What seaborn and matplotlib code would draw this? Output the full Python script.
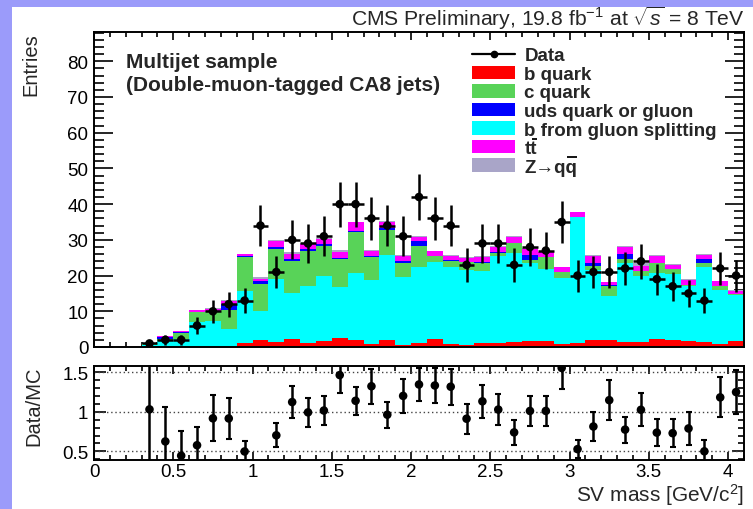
import numpy as np
import pandas as pd
import matplotlib
matplotlib.use("Agg")
import matplotlib.pyplot as plt
import seaborn as sns
from matplotlib.patches import Patch, Rectangle
from matplotlib.lines import Line2D
from matplotlib.transforms import IdentityTransform
from matplotlib.ticker import MultipleLocator, FuncFormatter

# SV mass binning: 41 bins of 0.1 GeV/c^2 between 0 and 4.1
bin_edges = np.round(np.linspace(0.0, 4.1, 42), 2)
bin_centers = np.round(0.5 * (bin_edges[:-1] + bin_edges[1:]), 2)

# Observed entries per bin
data_counts = np.array([
    0, 0, 0, 1, 2, 2, 6, 10, 12, 13,
    34, 21, 30, 29, 31, 40, 40, 36, 34, 31,
    42, 36, 34, 23, 29, 29, 23, 28, 27, 35,
    20, 21, 21, 22, 24, 19, 17, 15, 13, 22,
    20,
], dtype=float)

# Simulated contributions per bin (stacked bottom to top)
b_quark = [
    0, 0, 0, 0, 0, 0, 0, 0, 0, 1.1,
    1.9, 1.3, 2.3, 1.1, 1.8, 2.5, 2.1, 0.9, 2.0, 0.7,
    1.1, 2.2, 0.9, 0.7, 1.1, 1.1, 1.3, 1.6, 1.6, 0.9,
    1.1, 2.0, 1.9, 1.4, 1.3, 2.2, 2.0, 1.7, 1.5, 0.9,
    1.6,
]
gluon_splitting = [
    0, 0, 0, 0.6, 1.8, 2.3, 6.9, 7.2, 5.1, 14.5,
    8.1, 17.8, 12.8, 16.1, 18.2, 14.3, 18.6, 17.9, 23.8, 18.9,
    21.3, 21.5, 21.5, 20.9, 20.3, 24.4, 25.0, 21.9, 20.2, 18.4,
    35.2, 19.6, 12.5, 22.1, 18.5, 18.5, 18.5, 15.3, 21.0, 15.1,
    13.0,
]
c_quark = [
    0, 0, 0, 0.22, 0.4, 1.7, 2.9, 2.9, 5.3, 9.7,
    7.7, 8.3, 9.1, 9.6, 8.3, 7.8, 11.4, 6.4, 7.0, 3.9,
    5.8, 1.7, 1.8, 2.1, 2.1, 0.8, 2.8, 0.9, 3.3, 1.6,
    0.1, 1.2, 2.8, 1.2, 1.4, 2.8, 1.3, 0.3, 1.0, 1.0,
    0.2,
]
uds_gluon = [
    0, 0, 0, 0.1, 0.5, 0.1, 0.1, 0.1, 1.7, 0.1,
    0.9, 0.6, 0.5, 0.6, 0.6, 0.2, 0.4, 0.2, 0.5, 0.5,
    1.4, 0.1, 0.1, 0.2, 0.3, 0.2, 0.1, 1.4, 0.1, 0.1,
    0.1, 0.7, 0.1, 1.4, 0.1, 0.1, 0.1, 0.1, 1.1, 0.1,
    0.1,
]
ttbar = [
    0, 0, 0, 0.05, 0.4, 0.3, 0.4, 0.5, 0.7, 0.6,
    0.5, 1.6, 1.3, 1.4, 1.3, 1.7, 2.4, 1.4, 1.7, 1.4,
    1.1, 1.3, 1.3, 1.0, 1.5, 1.5, 1.6, 1.6, 1.3, 1.3,
    1.2, 2.0, 0.8, 1.9, 1.3, 1.8, 1.1, 1.3, 1.1, 1.3,
    0.9,
]
z_qq = [
    0, 0, 0, 0, 0.1, 0.1, 0.1, 0.2, 0.3, 0.1,
    0.4, 0.3, 0.7, 0.4, 0.3, 0.8, 0.2, 0.4, 0.3, 0.4,
    0.5, 0.2, 0.2, 0.3, 0.3, 0.2, 0.3, 0.3, 0.2, 0.2,
    0.2, 0.3, 0.2, 0.4, 0.8, 0.4, 0.3, 0.3, 0.3, 0.2,
    0.2,
]

# labels whose last letter is an antiquark (drawn with a bar above it)
TTBAR_LABEL = "tt"
ZQQ_LABEL = "Z\u2192qq"
legend_labels = ["Data", "b quark", "c quark", "uds quark or gluon",
                 "b from gluon splitting", TTBAR_LABEL, ZQQ_LABEL]

COL_B, COL_C, COL_UDS = "#ff0000", "#58d358", "#0000ff"
COL_GSP, COL_TT, COL_Z = "#00ffff", "#ff00ff", "#a9a5c8"

sns.set_theme(style="ticks")
plt.rcParams.update({
    "font.family": ["Liberation Sans", "DejaVu Sans"],
    "mathtext.fontset": "custom",
    "mathtext.rm": "Liberation Sans",
    "mathtext.bf": "Liberation Sans:bold",
    "mathtext.it": "Liberation Sans:italic",
    "axes.linewidth": 1.4,
    "axes.edgecolor": "black",
    "xtick.color": "black",
    "ytick.color": "black",
    "axes.facecolor": "white",
    "figure.facecolor": "white",
})

W, H = 753, 510
fig = plt.figure(figsize=(W / 100, H / 100), dpi=100)

# slide background strips
bg = "#9b9bfa"
fig.patches.append(Rectangle((0, 0), 12 / W, 1, transform=fig.transFigure,
                             facecolor=bg, edgecolor="none", zorder=-5))
fig.patches.append(Rectangle((0, 1 - 8 / H), 1, 8 / H, transform=fig.transFigure,
                             facecolor=bg, edgecolor="none", zorder=-5))

ax = fig.add_axes([94 / W, 1 - 348 / H, 650 / W, 315 / H])
ax_r = fig.add_axes([94 / W, 1 - 461 / H, 650 / W, 94 / H])

# stacked simulation, drawn as cumulative layers from the top one down
layers = [
    (b_quark, COL_B),
    (gluon_splitting, COL_GSP),
    (c_quark, COL_C),
    (uds_gluon, COL_UDS),
    (ttbar, COL_TT),
    (z_qq, COL_Z),
]
cumulative = np.cumsum([np.asarray(v, dtype=float) for v, _ in layers], axis=0)
for (values, color), heights in reversed(list(zip(layers, cumulative))):
    frame = pd.DataFrame({"sv_mass": bin_centers, "entries": heights})
    sns.histplot(data=frame, x="sv_mass", weights="entries", binwidth=0.1,
                 binrange=(0.0, 4.1), element="step", fill=True, color=color,
                 alpha=1.0, linewidth=0, ax=ax)

mc_total = cumulative[-1]

# data points with Poisson errors
has_data = data_counts > 0
xd = bin_centers[has_data]
yd = data_counts[has_data]
ax.errorbar(xd, yd, xerr=0.05, yerr=np.sqrt(yd), fmt="none", ecolor="black",
            elinewidth=1.8, capsize=0, zorder=5)
sns.scatterplot(x=xd, y=yd, color="black", s=38, edgecolor="none", ax=ax,
                zorder=6, legend=False)

ax.set_xlim(0, 4.1)
ax.set_ylim(0, 88.2)
ax.set_xlabel("")
ax.set_ylabel("Entries", fontsize=14.5, loc="top")
ax.yaxis.set_label_coords(-0.082, 1.0)
ax.xaxis.set_major_locator(MultipleLocator(0.5))
ax.xaxis.set_minor_locator(MultipleLocator(0.1))
ax.yaxis.set_major_locator(MultipleLocator(10))
ax.yaxis.set_minor_locator(MultipleLocator(2))
ax.tick_params(axis="both", which="both", direction="in", top=True, right=True,
               width=1.2)
ax.tick_params(axis="y", which="major", length=14, labelsize=13.5, pad=4)
ax.tick_params(axis="y", which="minor", length=7)
ax.tick_params(axis="x", which="major", length=6, labelbottom=False)
ax.tick_params(axis="x", which="minor", length=3.5)

# legend
handles = [Line2D([], [], color="black", marker="o", markersize=4.5, lw=1.6)]
for c in (COL_B, COL_C, COL_UDS, COL_GSP, COL_TT, COL_Z):
    handles.append(Patch(facecolor=c, edgecolor="none"))
leg = ax.legend(handles, legend_labels, loc="upper left",
                bbox_to_anchor=(472 / W, 1 - 48 / H), bbox_transform=fig.transFigure,
                frameon=False, prop={"weight": "bold", "size": 13.5},
                handlelength=2.3, handleheight=0.75, handletextpad=0.5,
                labelspacing=0.06, borderpad=0, borderaxespad=0)

# sample annotation and header
fig.text(126 / W, 1 - 68 / H, "Multijet sample", fontsize=15, fontweight="bold",
         ha="left", va="baseline")
fig.text(126 / W, 1 - 91 / H, "(Double-muon-tagged CA8 jets)", fontsize=15,
         fontweight="bold", ha="left", va="baseline")
fig.text(745 / W, 1 - 26 / H,
         r"CMS Preliminary, 19.8 fb$^{-1}$ at $\sqrt{s}$ = 8 TeV",
         fontsize=15.2, ha="right", va="baseline")

# ratio panel
ratio = np.divide(data_counts, mc_total, out=np.zeros_like(mc_total), where=mc_total > 0)
ratio_err = np.divide(np.sqrt(data_counts), mc_total, out=np.zeros_like(mc_total),
                      where=mc_total > 0)
r_lo, r_hi = 0.39, 1.58
shown = has_data & (ratio >= r_lo) & (ratio <= r_hi)
for level in (0.5, 1.0, 1.5):
    ax_r.axhline(level, color="#444444", lw=1.0, ls=(0, (1, 2)), zorder=1)
ax_r.errorbar(bin_centers[shown], ratio[shown], yerr=ratio_err[shown], fmt="none",
              ecolor="black", elinewidth=1.8, capsize=2.5, capthick=1.5, zorder=4)
sns.scatterplot(x=bin_centers[shown], y=ratio[shown], color="black", s=38,
                edgecolor="none", ax=ax_r, zorder=5, legend=False)

ax_r.set_xlim(0, 4.1)
ax_r.set_ylim(r_lo, r_hi)
ax_r.xaxis.set_major_locator(MultipleLocator(0.5))
ax_r.xaxis.set_minor_locator(MultipleLocator(0.1))
ax_r.yaxis.set_major_locator(MultipleLocator(0.5))
ax_r.yaxis.set_minor_locator(MultipleLocator(0.1))
fmt = FuncFormatter(lambda v, _: f"{v:g}")
ax_r.xaxis.set_major_formatter(fmt)
ax_r.yaxis.set_major_formatter(fmt)
ax_r.tick_params(axis="both", which="both", direction="in", top=True, right=True,
                 width=1.2, labelsize=13.5)
ax_r.tick_params(axis="y", which="major", length=8.5, pad=4)
ax_r.tick_params(axis="y", which="minor", length=4.5)
ax_r.tick_params(axis="x", which="major", length=6, pad=2)
ax_r.tick_params(axis="x", which="minor", length=3.5)
ax_r.set_ylabel("Data/MC", fontsize=14.5, loc="top")
ax_r.yaxis.set_label_coords(-0.078, 1.0)
ax_r.set_xlabel("SV mass [GeV/c$^{2}$]", fontsize=15, loc="right")
ax_r.xaxis.set_label_coords(1.0, -0.225)

# antiquark bars over the last letter of the tt and Z->qq legend labels
fig.canvas.draw()
renderer = fig.canvas.get_renderer()
for txt in leg.get_texts():
    label = txt.get_text()
    if label not in (TTBAR_LABEL, ZQQ_LABEL):
        continue
    prop = txt.get_fontproperties()
    bb = txt.get_window_extent(renderer)
    _, _, lp_descent = renderer.get_text_width_height_descent("lp", prop, ismath=False)
    last_w, _, _ = renderer.get_text_width_height_descent(label[-1], prop, ismath=False)
    baseline = bb.y0 + lp_descent
    cap_height = 0.70 * prop.get_size_in_points() * fig.dpi / 72.0
    y_bar = baseline + cap_height + 1.0
    fig.add_artist(Line2D([bb.x1 - last_w + 1.0, bb.x1 - 0.5], [y_bar, y_bar],
                          transform=IdentityTransform(), color="black", lw=1.3,
                          solid_capstyle="butt"))

fig.savefig("out.png", dpi=100)
